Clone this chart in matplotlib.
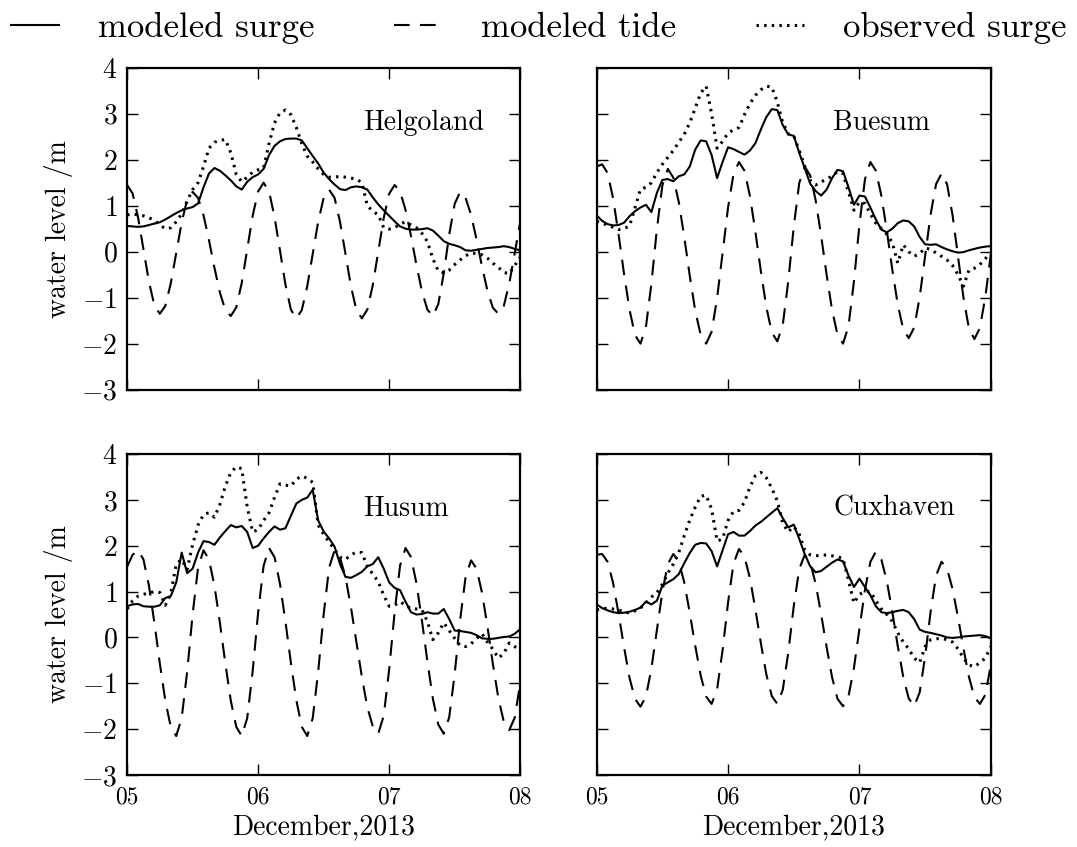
import numpy as np
import matplotlib
matplotlib.use('Agg')
import matplotlib.pyplot as plt

plt.rcParams['font.family'] = 'serif'
plt.rcParams['font.serif'] = ['cmr10']
plt.rcParams['mathtext.fontset'] = 'cm'
plt.rcParams['axes.formatter.use_mathtext'] = True

# hourly values from 05 Dec 00:00 to 08 Dec 00:00
hours = np.arange(73)
day_ticks = [0, 1, 2, 3]
day_labels = ['05', '06', '07', '08']
stations = ['Helgoland', 'Buesum', 'Husum', 'Cuxhaven']

helgoland_tide = [1.45, 1.27, 0.75, 0.05, -0.65, -1.17, -1.35, -1.18, -0.69, -0.03, 0.64, 1.13,
                  1.30, 1.17, 0.79, 0.25, -0.35, -0.89, -1.27, -1.40, -1.21, -0.68, 0.05, 0.78,
                  1.31, 1.50, 1.31, 0.76, 0.03, -0.71, -1.26, -1.45, -1.27, -0.75, -0.05, 0.65,
                  1.17, 1.35, 1.17, 0.65, -0.05, -0.75, -1.27, -1.45, -1.26, -0.73, 0.00, 0.73,
                  1.26, 1.45, 1.31, 0.91, 0.34, -0.29, -0.86, -1.26, -1.40, -1.14, -0.47, 0.37,
                  1.04, 1.30, 1.17, 0.80, 0.27, -0.32, -0.85, -1.22, -1.35, -1.18, -0.69, -0.03,
                  0.64]
helgoland_surge = [0.56, 0.55, 0.54, 0.55, 0.58, 0.61, 0.64, 0.70, 0.77, 0.84, 0.90, 0.94,
                   0.97, 1.05, 1.40, 1.70, 1.82, 1.76, 1.66, 1.55, 1.42, 1.35, 1.52, 1.62,
                   1.68, 1.80, 2.10, 2.30, 2.40, 2.45, 2.46, 2.46, 2.42, 2.25, 2.08, 1.92,
                   1.72, 1.58, 1.46, 1.36, 1.34, 1.40, 1.42, 1.40, 1.35, 1.18, 1.03, 0.90,
                   0.78, 0.66, 0.55, 0.50, 0.48, 0.48, 0.49, 0.51, 0.46, 0.35, 0.23, 0.17,
                   0.14, 0.10, 0.03, 0.02, 0.04, 0.06, 0.08, 0.09, 0.10, 0.12, 0.10, 0.06,
                   0.03]
helgoland_obs = [0.80, 0.82, 0.80, 0.78, 0.74, 0.68, 0.58, 0.50, 0.52, 0.65, 0.82, 1.10,
                 1.35, 1.50, 1.85, 2.25, 2.38, 2.42, 2.44, 2.15, 1.68, 1.52, 1.62, 1.73,
                 1.78, 1.82, 2.35, 2.80, 3.02, 3.08, 2.98, 2.70, 2.35, 2.08, 1.95, 1.80,
                 1.68, 1.62, 1.62, 1.64, 1.62, 1.60, 1.58, 1.50, 1.00, 0.88, 0.80, 0.52,
                 0.49, 0.52, 0.60, 0.65, 0.58, 0.52, 0.40, 0.22, -0.15, -0.42, -0.46, -0.40,
                 -0.28, -0.18, -0.09, -0.03, -0.04, -0.07, -0.14, -0.25, -0.34, -0.45, -0.48, -0.30,
                 -0.12]

buesum_tide = [1.85, 1.90, 1.71, 1.16, 0.38, -0.48, -1.26, -1.81, -2.00, -1.64, -0.69, 0.49,
               1.44, 1.80, 1.61, 1.08, 0.32, -0.52, -1.28, -1.81, -2.00, -1.74, -1.01, -0.03,
               0.96, 1.69, 1.95, 1.76, 1.21, 0.43, -0.43, -1.21, -1.76, -1.95, -1.59, -0.64,
               0.54, 1.49, 1.85, 1.66, 1.12, 0.35, -0.50, -1.27, -1.81, -2.00, -1.62, -0.64,
               0.59, 1.57, 1.95, 1.76, 1.22, 0.46, -0.39, -1.15, -1.69, -1.88, -1.65, -0.99,
               -0.09, 0.81, 1.47, 1.70, 1.47, 0.80, -0.10, -1.00, -1.67, -1.90, -1.66, -0.98,
               -0.05]
buesum_surge = [0.79, 0.67, 0.60, 0.57, 0.58, 0.63, 0.77, 0.88, 0.96, 1.02, 0.86, 1.28,
                1.56, 1.58, 1.53, 1.64, 1.68, 1.85, 2.22, 2.42, 2.40, 2.10, 1.60, 1.95,
                2.27, 2.23, 2.17, 2.11, 2.20, 2.36, 2.66, 2.93, 3.10, 3.08, 2.75, 2.55,
                2.52, 2.15, 1.82, 1.48, 1.32, 1.22, 1.35, 1.60, 1.78, 1.75, 1.40, 1.02,
                1.22, 1.20, 0.96, 0.70, 0.48, 0.42, 0.50, 0.62, 0.68, 0.66, 0.55, 0.32,
                0.16, 0.15, 0.16, 0.10, 0.05, 0.01, -0.02, -0.01, 0.03, 0.06, 0.09, 0.11,
                0.12]
buesum_obs = [0.66, 0.62, 0.58, 0.53, 0.48, 0.50, 0.56, 0.95, 1.36, 1.40, 1.50, 1.72,
              1.90, 2.05, 2.20, 2.38, 2.55, 2.80, 3.12, 3.45, 3.60, 3.00, 2.25, 2.40,
              2.58, 2.65, 2.70, 2.98, 3.22, 3.40, 3.52, 3.60, 3.58, 3.25, 2.80, 2.56,
              2.52, 2.20, 1.86, 1.55, 1.45, 1.52, 1.57, 1.65, 1.74, 1.70, 1.30, 0.90,
              1.08, 1.05, 0.82, 0.62, 0.50, 0.38, 0.20, -0.25, 0.15, 0.00, -0.10, -0.04,
              0.08, 0.05, -0.03, -0.10, -0.18, -0.30, -0.50, -0.75, -0.40, -0.36, -0.28, -0.15,
              -0.03]

husum_tide = [1.54, 1.80, 1.90, 1.70, 1.13, 0.32, -0.57, -1.38, -1.95, -2.15, -1.76, -0.75,
              0.50, 1.52, 1.90, 1.70, 1.13, 0.32, -0.57, -1.38, -1.95, -2.15, -1.76, -0.74,
              0.54, 1.56, 1.95, 1.75, 1.17, 0.35, -0.55, -1.37, -1.95, -2.15, -1.76, -0.75,
              0.50, 1.52, 1.90, 1.74, 1.32, 0.66, -0.10, -0.86, -1.52, -1.94, -2.10, -1.71,
              -0.70, 0.55, 1.57, 1.95, 1.75, 1.18, 0.37, -0.52, -1.33, -1.90, -2.10, -1.74,
              -0.80, 0.38, 1.32, 1.68, 1.50, 0.98, 0.24, -0.58, -1.32, -1.84, -2.02, -1.75,
              -1.00]
husum_surge = [0.68, 0.72, 0.73, 0.68, 0.67, 0.67, 0.70, 0.86, 0.90, 1.20, 1.85, 1.40,
               1.50, 1.85, 2.10, 2.08, 2.02, 2.18, 2.32, 2.45, 2.40, 2.43, 2.30, 1.95,
               2.00, 2.16, 2.30, 2.42, 2.35, 2.38, 2.65, 2.92, 3.00, 3.05, 3.22, 2.55,
               2.31, 2.16, 1.98, 1.60, 1.32, 1.30, 1.36, 1.43, 1.55, 1.60, 1.75, 1.50,
               1.20, 1.08, 1.03, 0.78, 0.55, 0.50, 0.51, 0.55, 0.52, 0.52, 0.62, 0.40,
               0.15, 0.14, 0.12, 0.10, 0.05, -0.02, -0.03, -0.03, -0.01, 0.01, 0.02, 0.08,
               0.18]
husum_obs = [0.62, 0.80, 0.90, 0.94, 0.97, 1.00, 0.98, 0.70, 0.95, 1.60, 1.70, 1.48,
             2.02, 2.45, 2.68, 2.72, 2.62, 2.90, 3.30, 3.60, 3.72, 3.68, 2.85, 2.30,
             2.35, 2.55, 2.72, 3.05, 3.35, 3.32, 3.30, 3.45, 3.52, 3.47, 3.38, 2.45,
             2.25, 2.08, 1.92, 1.75, 1.70, 1.80, 1.86, 1.85, 1.55, 1.38, 1.22, 0.92,
             0.68, 0.70, 0.78, 0.70, 0.63, 0.62, 0.60, 0.35, -0.05, 0.10, 0.32, 0.15,
             -0.02, -0.18, -0.20, -0.14, -0.02, 0.08, -0.10, -0.26, -0.45, -0.35, -0.12, -0.20,
             -0.28]

cuxhaven_tide = [1.80, 1.82, 1.65, 1.19, 0.52, -0.21, -0.88, -1.34, -1.51, -1.29, -0.68, 0.16,
                 0.99, 1.60, 1.82, 1.66, 1.20, 0.54, -0.18, -0.83, -1.29, -1.45, -1.13, -0.28,
                 0.76, 1.61, 1.93, 1.76, 1.29, 0.61, -0.13, -0.81, -1.28, -1.45, -1.14, -0.33,
                 0.68, 1.49, 1.80, 1.64, 1.17, 0.51, -0.21, -0.87, -1.34, -1.50, -1.28, -0.66,
                 0.19, 1.03, 1.65, 1.87, 1.70, 1.23, 0.56, -0.19, -0.86, -1.33, -1.50, -1.20,
                 -0.41, 0.56, 1.35, 1.65, 1.50, 1.06, 0.44, -0.24, -0.86, -1.30, -1.45, -1.25,
                 -0.60]
cuxhaven_surge = [0.72, 0.64, 0.59, 0.55, 0.53, 0.54, 0.56, 0.60, 0.65, 0.78, 0.72, 0.80,
                  1.13, 1.20, 1.27, 1.38, 1.62, 1.84, 2.02, 2.06, 2.05, 1.88, 1.55, 1.90,
                  2.25, 2.30, 2.22, 2.22, 2.32, 2.44, 2.52, 2.62, 2.72, 2.82, 2.60, 2.40,
                  2.46, 2.15, 1.82, 1.55, 1.42, 1.45, 1.54, 1.63, 1.70, 1.66, 1.35, 1.10,
                  1.28, 1.10, 0.92, 0.68, 0.55, 0.53, 0.55, 0.58, 0.60, 0.55, 0.40, 0.17,
                  0.12, 0.10, 0.07, 0.04, 0.00, -0.01, 0.00, 0.02, 0.03, 0.04, 0.05, 0.03,
                  -0.02]
cuxhaven_obs = [0.60, 0.62, 0.64, 0.62, 0.60, 0.56, 0.53, 0.58, 0.64, 0.75, 0.88, 0.97,
                1.16, 1.40, 1.60, 1.85, 2.22, 2.56, 2.84, 3.08, 3.10, 2.80, 2.10, 2.15,
                2.55, 2.75, 2.77, 2.95, 3.28, 3.53, 3.60, 3.48, 3.25, 2.98, 2.49, 2.30,
                2.42, 2.25, 1.91, 1.80, 1.78, 1.79, 1.80, 1.78, 1.76, 1.72, 1.25, 0.75,
                0.94, 1.00, 1.00, 0.80, 0.62, 0.50, 0.35, 0.10, -0.10, -0.25, -0.45, -0.55,
                -0.20, -0.05, -0.03, -0.02, -0.05, -0.10, -0.25, -0.45, -0.60, -0.64, -0.55, -0.45,
                -0.20]

surges = [helgoland_surge, buesum_surge, husum_surge, cuxhaven_surge]
tides = [helgoland_tide, buesum_tide, husum_tide, cuxhaven_tide]
observed = [helgoland_obs, buesum_obs, husum_obs, cuxhaven_obs]

fig = plt.figure(figsize=(10.77, 8.47), dpi=100)
boxes = [[0.118, 0.540, 0.365, 0.380], [0.554, 0.540, 0.366, 0.380],
         [0.118, 0.085, 0.365, 0.379], [0.554, 0.085, 0.366, 0.379]]

days = hours / 24.0
for i in range(4):
    ax = fig.add_axes(boxes[i])
    l1, = ax.plot(days, surges[i], color='black', lw=1.5, ls='-')
    l2, = ax.plot(days, tides[i], color='black', lw=1.5, ls=(0, (7.5, 5)))
    l3, = ax.plot(days, observed[i], color='black', lw=2.2, ls=(0, (0.8, 1.7)))
    ax.set_xlim(0, 3)
    ax.set_ylim(-3, 4)
    ax.set_yticks(range(-3, 5))
    ax.set_xticks(day_ticks)
    ax.text(0.6, 0.83, stations[i], transform=ax.transAxes, fontsize=20,
            ha='left', va='center')
    ax.tick_params(direction='in', top=True, right=True, length=8, width=1)
    ax.tick_params(axis='y', labelsize=20, pad=7)
    ax.tick_params(axis='x', labelsize=17, pad=8)
    for s in ax.spines.values():
        s.set_linewidth(1.6)
    if i < 2:
        ax.set_xticklabels([])
    else:
        ax.set_xticklabels(day_labels)
        ax.set_xlabel('December,2013', fontsize=20, labelpad=4)
    if i % 2 == 1:
        ax.set_yticklabels([])
    else:
        ax.set_ylabel('water level /m', fontsize=20, labelpad=6)

fig.legend([l1, l2, l3], ['modeled surge', 'modeled tide', 'observed surge'],
           loc='upper center', bbox_to_anchor=(0.5, 1.023), ncol=3, frameon=False,
           fontsize=25, handlelength=1.4, handletextpad=1.1, columnspacing=2.3)

plt.savefig('out.png', dpi=100)
